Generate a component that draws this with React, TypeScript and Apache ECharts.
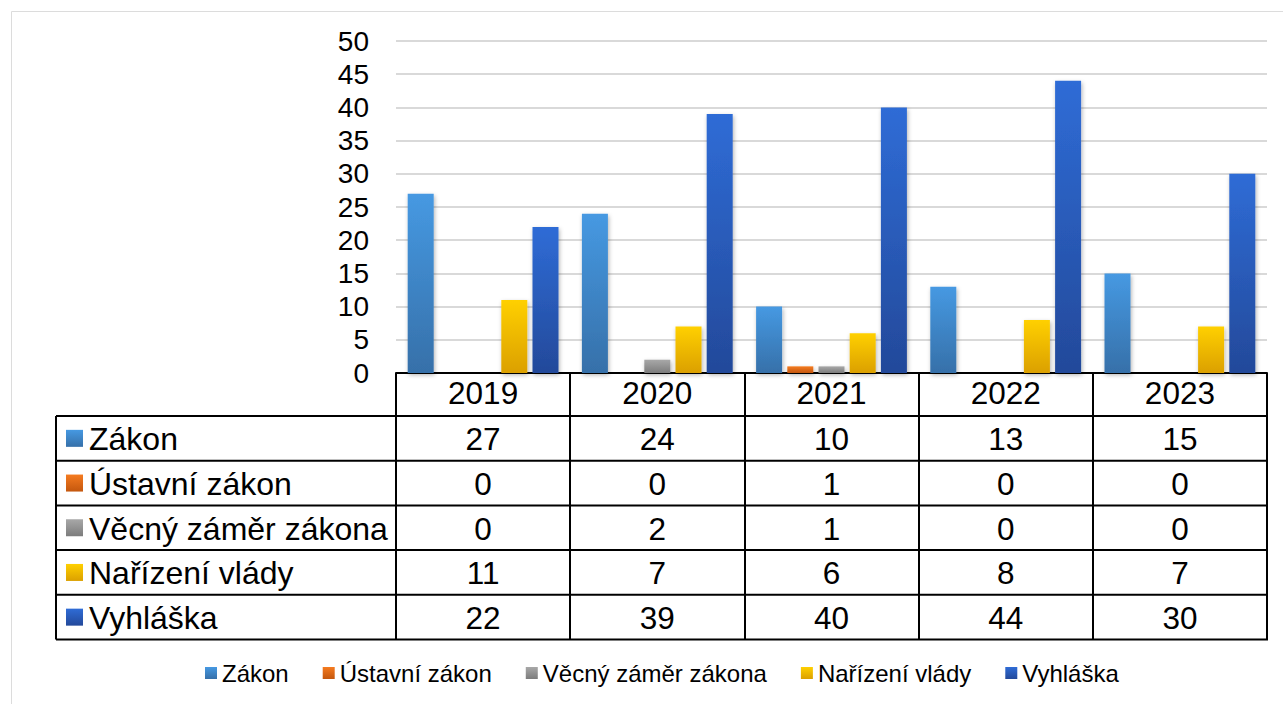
import React, { useEffect, useRef } from "react";
import * as echarts from "echarts";

const categories = ["2019", "2020", "2021", "2022", "2023"];
const seriesNames = ["Zákon", "Ústavní zákon", "Věcný záměr zákona", "Nařízení vlády", "Vyhláška"];
const zakon = [27, 24, 10, 13, 15];
const ustavniZakon = [0, 0, 1, 0, 0];
const vecnyZamer = [0, 2, 1, 0, 0];
const narizeniVlady = [11, 7, 6, 8, 7];
const vyhlaska = [22, 39, 40, 44, 30];
const yMin = 0;
const yMax = 50;
const yInterval = 5;

const seriesValues = [zakon, ustavniZakon, vecnyZamer, narizeniVlady, vyhlaska];
const gradStops = [
  ["#4699E2", "#3670A9"],
  ["#F57B20", "#C4570E"],
  ["#A8A8A8", "#7C7C7C"],
  ["#FFD000", "#DBA000"],
  ["#2F6CD6", "#23499A"],
];

const W = 1283;
const H = 704;
const FONT = "Liberation Sans, Arial, sans-serif";
const GRID_LEFT = 396;
const GRID_RIGHT_X = 1267;
const GRID_TOP = 41;
const AXIS_Y = 373;
const HEADER_BOTTOM = 416;
const ROW_H = 44.7;
const TABLE_LEFT = 56;
const TABLE_BOTTOM = HEADER_BOTTOM + ROW_H * 5;
const TABLE_FONT = 31.5;

const grad = (i: number) =>
  new echarts.graphic.LinearGradient(0, 0, 0, 1, [
    { offset: 0, color: gradStops[i][0] },
    { offset: 1, color: gradStops[i][1] },
  ]);

export default function App() {
  const ref = useRef<HTMLDivElement>(null);
  useEffect(() => {
    if (!ref.current) return;
    const chart = echarts.init(ref.current, undefined, { renderer: "svg" });
    const colW = (GRID_RIGHT_X - GRID_LEFT) / categories.length;
    const graphics: any[] = [];
    graphics.push({
      type: "rect",
      shape: { x: 11.5, y: 11.5, width: W, height: H },
      style: { fill: "none", stroke: "#dcdcdc", lineWidth: 1 },
      silent: true,
    });
    for (let r = 0; r <= seriesNames.length; r++) {
      const y = HEADER_BOTTOM + r * ROW_H;
      graphics.push({
        type: "line",
        shape: { x1: TABLE_LEFT, y1: y, x2: GRID_RIGHT_X + 1, y2: y },
        style: { stroke: "#000", lineWidth: 2 },
        silent: true,
      });
    }
    graphics.push({
      type: "line",
      shape: { x1: TABLE_LEFT, y1: HEADER_BOTTOM, x2: TABLE_LEFT, y2: TABLE_BOTTOM },
      style: { stroke: "#000", lineWidth: 2 },
      silent: true,
    });
    seriesNames.forEach((name, r) => {
      const cy = HEADER_BOTTOM + (r + 0.5) * ROW_H;
      graphics.push({
        type: "rect",
        shape: { x: 66, y: cy - 8.5, width: 17, height: 17 },
        style: { fill: grad(r) },
        silent: true,
      });
      graphics.push({
        type: "text",
        x: 89,
        y: cy + 1,
        style: {
          text: name,
          fontSize: 32,
          fontFamily: FONT,
          fill: "#000",
          textAlign: "left",
          textVerticalAlign: "middle",
        },
        silent: true,
      });
      seriesValues[r].forEach((v, c) => {
        graphics.push({
          type: "text",
          x: GRID_LEFT + (c + 0.5) * colW,
          y: cy + 1,
          style: {
            text: String(v),
            fontSize: TABLE_FONT,
            fontFamily: FONT,
            fill: "#000",
            textAlign: "center",
            textVerticalAlign: "middle",
          },
          silent: true,
        });
      });
    });

    chart.setOption({
      animation: false,
      backgroundColor: "#fff",
      textStyle: { fontFamily: FONT },
      grid: {
        left: GRID_LEFT,
        right: W - GRID_RIGHT_X,
        top: GRID_TOP,
        bottom: H - AXIS_Y,
        containLabel: false,
      },
      legend: {
        data: seriesNames,
        left: 205,
        top: 661,
        padding: 0,
        itemWidth: 12,
        itemHeight: 12,
        itemGap: 34,
        icon: "rect",
        textStyle: { fontSize: 24, color: "#000", fontFamily: FONT },
      },
      xAxis: {
        type: "category",
        data: categories,
        axisLine: { show: true, lineStyle: { color: "#000", width: 2 } },
        axisTick: {
          show: true,
          interval: 0,
          length: TABLE_BOTTOM - AXIS_Y,
          lineStyle: { color: "#000", width: 2 },
        },
        axisLabel: { fontSize: TABLE_FONT, color: "#000", margin: 4, fontFamily: FONT },
        splitLine: { show: false },
      },
      yAxis: {
        type: "value",
        min: yMin,
        max: yMax,
        interval: yInterval,
        axisLine: { show: false },
        axisTick: { show: false },
        axisLabel: { fontSize: 28, color: "#000", margin: 27, fontFamily: FONT },
        splitLine: { lineStyle: { color: "#d9d9d9", width: 2 } },
      },
      series: seriesNames.map((name, i) => ({
        name,
        type: "bar",
        data: seriesValues[i],
        barWidth: 26,
        barGap: "20%",
        itemStyle: {
          color: grad(i),
          shadowColor: "rgba(0,0,0,0.3)",
          shadowBlur: 4,
          shadowOffsetX: 1,
          shadowOffsetY: 2,
        },
      })),
      graphic: graphics,
    });
    return () => chart.dispose();
  }, []);
  return (
    <div
      ref={ref}
      style={{ position: "fixed", left: 0, top: 0, width: W, height: H, background: "#fff" }}
    />
  );
}
